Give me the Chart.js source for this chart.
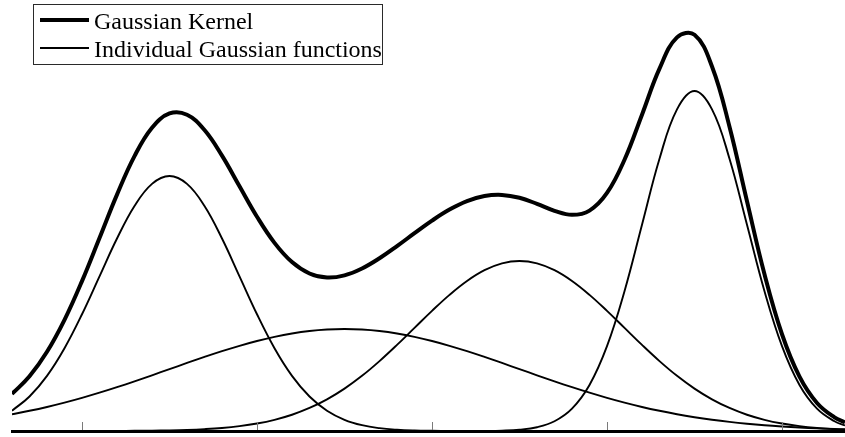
<!DOCTYPE html>
<html>
<head>
<meta charset="utf-8">
<title>Gaussian Kernel</title>
<script src="https://cdn.jsdelivr.net/npm/chart.js@4/dist/chart.umd.min.js"></script>
<style>
  html, body { margin: 0; padding: 0; background: #ffffff; }
  canvas { display: block; }
</style>
</head>
<body>
<canvas id="kde" width="845" height="437"></canvas>
<script>
// Sample positions along the horizontal axis
const xs = [-0.4,-0.3,-0.2,-0.1,0,0.1,0.2,0.3,0.4,0.5,0.6,0.7,0.8,0.9,1.0,1.1,1.2,1.3,1.4,1.5,
            1.6,1.7,1.8,1.9,2.0,2.1,2.2,2.3,2.4,2.5,2.6,2.7,2.8,2.9,3.0,3.1,3.2,3.3,3.4,3.5,
            3.6,3.7,3.8,3.9,4.0,4.1,4.2,4.3,4.36];

// Summed kernel curve
const kernel = [0.1090,0.1609,0.2329,0.3269,0.4409,0.5677,0.6953,0.8085,0.8918,0.9339,
                0.9303,0.8853,0.8099,0.7198,0.6302,0.5533,0.4968,0.4633,0.4513,0.4577,
                0.4779,0.5080,0.5438,0.5818,0.6188,0.6513,0.6762,0.6911,0.6944,0.6859,
                0.6680,0.6476,0.6358,0.6483,0.7001,0.7978,0.9304,1.0657,1.1576,1.1653,
                1.0722,0.8951,0.6756,0.4608,0.2846,0.1598,0.0825,0.0402,0.0255];

// Individual components
const gauss1 = [0.0597,0.1015,0.1622,0.2435,0.3434,0.4549,0.5661,0.6619,0.7269,0.7500,
                0.7269,0.6619,0.5661,0.4549,0.3434,0.2435,0.1622,0.1015,0.0597,0.0330,
                0.0171,0.0083,0.0038,0.0016,0.0007,0.0003,0.0001,0,0,0,
                0,0,0,0,0,0,0,0,0,0,
                0,0,0,0,0,0,0,0,0];
const gauss2 = [0.0493,0.0594,0.0707,0.0834,0.0974,0.1126,0.1289,0.1460,0.1638,0.1820,
                0.2001,0.2178,0.2348,0.2506,0.2648,0.2769,0.2868,0.2941,0.2985,0.3000,
                0.2985,0.2941,0.2868,0.2769,0.2648,0.2506,0.2348,0.2178,0.2001,0.1820,
                0.1638,0.1460,0.1289,0.1126,0.0974,0.0834,0.0707,0.0594,0.0493,0.0406,
                0.0331,0.0267,0.0213,0.0168,0.0132,0.0102,0.0078,0.0060,0.0050];
const gauss3 = [0,0,0,0,0.0001,0.0002,0.0003,0.0006,0.0011,0.0019,
                0.0033,0.0056,0.0090,0.0143,0.0220,0.0329,0.0478,0.0677,0.0931,0.1247,
                0.1623,0.2056,0.2532,0.3033,0.3533,0.4004,0.4412,0.4730,0.4931,0.5000,
                0.4931,0.4730,0.4412,0.4004,0.3533,0.3033,0.2532,0.2056,0.1623,0.1247,
                0.0931,0.0677,0.0478,0.0329,0.0220,0.0143,0.0090,0.0056,0.0041];
const gauss4 = [0,0,0,0,0,0,0,0,0,0,
                0,0,0,0,0,0,0,0,0,0,
                0,0,0,0,0,0,0.0001,0.0003,0.0012,0.0039,
                0.0111,0.0286,0.0657,0.1353,0.2494,0.4111,0.6065,0.8007,0.9460,1.0000,
                0.9460,0.8007,0.6065,0.4111,0.2494,0.1353,0.0657,0.0286,0.0164];

// Tick positions on the horizontal axis (unlabelled)
const tickValues = [0, 1, 2, 3, 4];

// Legend entries
const legendLabels = ['Gaussian Kernel', 'Individual Gaussian functions'];

const toPoints = ys => xs.map((x, i) => ({ x: x, y: ys[i] }));

const thin = ys => ({
  label: legendLabels[1],
  data: toPoints(ys),
  borderColor: '#000000',
  borderWidth: 1.9,
  pointRadius: 0,
  tension: 0.4,
  fill: false
});

// Small upward tick marks along the base line
const innerTicks = {
  id: 'innerTicks',
  afterDraw(chart) {
    const ctx = chart.ctx;
    const sx = chart.scales.x;
    const bottom = chart.chartArea.bottom;
    ctx.save();
    ctx.strokeStyle = '#7a7a7a';
    ctx.lineWidth = 1;
    sx.ticks.forEach(t => {
      const px = Math.round(sx.getPixelForValue(t.value)) + 0.5;
      ctx.beginPath();
      ctx.moveTo(px, bottom - 1);
      ctx.lineTo(px, bottom - 9);
      ctx.stroke();
    });
    ctx.restore();
  }
};

// Boxed legend in the upper-left corner
const boxLegend = {
  id: 'boxLegend',
  afterDraw(chart) {
    const ctx = chart.ctx;
    ctx.save();
    ctx.fillStyle = '#ffffff';
    ctx.fillRect(33.5, 4.5, 349, 60);
    ctx.strokeStyle = '#2a2a2a';
    ctx.lineWidth = 1;
    ctx.strokeRect(33.5, 4.5, 349, 60);

    ctx.strokeStyle = '#000000';
    ctx.lineWidth = 4;
    ctx.beginPath();
    ctx.moveTo(40, 20);
    ctx.lineTo(89, 20);
    ctx.stroke();

    ctx.lineWidth = 2;
    ctx.beginPath();
    ctx.moveTo(40, 48);
    ctx.lineTo(89, 48);
    ctx.stroke();

    ctx.fillStyle = '#000000';
    ctx.font = '24px "Liberation Serif", "Times New Roman", serif';
    ctx.textBaseline = 'alphabetic';
    ctx.textAlign = 'left';
    ctx.fillText(legendLabels[0], 94, 29);
    ctx.fillText(legendLabels[1], 94, 57);
    ctx.restore();
  }
};

new Chart(document.getElementById('kde'), {
  type: 'line',
  data: {
    datasets: [
      {
        label: legendLabels[0],
        data: toPoints(kernel),
        borderColor: '#000000',
        borderWidth: 4,
        pointRadius: 0,
        tension: 0.4,
        fill: false
      },
      thin(gauss1),
      thin(gauss2),
      thin(gauss3),
      thin(gauss4)
    ]
  },
  options: {
    responsive: false,
    animation: false,
    layout: { padding: { left: 12, right: 0, top: 6, bottom: 6 } },
    plugins: {
      legend: { display: false },
      tooltip: { enabled: false },
      title: { display: false }
    },
    scales: {
      x: {
        type: 'linear',
        min: -0.4,
        max: 4.36,
        afterBuildTicks: scale => {
          scale.ticks = tickValues.map(v => ({ value: v }));
        },
        grid: { display: false, drawTicks: false },
        ticks: { display: false },
        border: { display: true, color: '#000000', width: 3 }
      },
      y: {
        display: false,
        min: 0,
        max: 1.25
      }
    }
  },
  plugins: [innerTicks, boxLegend]
});
</script>
</body>
</html>
